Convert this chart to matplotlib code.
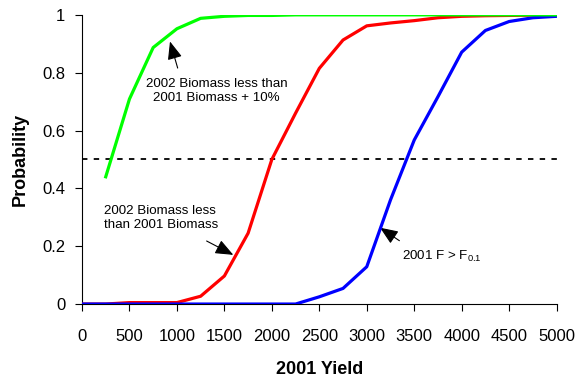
import numpy as np
import matplotlib
matplotlib.use('Agg')
import matplotlib.pyplot as plt

plt.rcParams['font.family'] = ['Liberation Sans', 'DejaVu Sans']

# Rendimiento 2001 y probabilidades
yield_2001 = [0, 250, 500, 750, 1000, 1250, 1500, 1750, 2000, 2250, 2500,
              2750, 3000, 3250, 3500, 3750, 4000, 4250, 4500, 4750, 5000]

p_biomass10 = [0.44, 0.709, 0.887, 0.952, 0.988, 0.995, 0.998, 0.998, 1.0,
               1.0, 1.0, 1.0, 1.0, 1.0, 1.0, 1.0, 1.0, 1.0, 1.0, 1.0]
yield_biomass10 = yield_2001[1:]

p_biomass = [0.0, 0.0, 0.005, 0.005, 0.005, 0.027, 0.097, 0.245, 0.50, 0.66,
             0.815, 0.913, 0.962, 0.972, 0.98, 0.99, 0.995, 0.997, 0.998, 0.999, 1.0]

p_f01 = [0.0, 0.0, 0.0, 0.0, 0.0, 0.0, 0.0, 0.0, 0.0, 0.0, 0.025, 0.054,
         0.129, 0.36, 0.567, 0.717, 0.871, 0.946, 0.977, 0.99, 0.995]

fig = plt.figure(figsize=(5.75, 3.81), dpi=100)
ax = fig.add_axes([0.1426, 0.202, 0.8254, 0.759])

ax.plot(yield_2001, p_biomass, color='#ff0000', lw=2.3, zorder=3)
ax.plot(yield_2001, p_f01, color='#0000ff', lw=2.3, zorder=4)
ax.plot(yield_biomass10, p_biomass10, color='#00ff00', lw=2.3, zorder=5)
ax.plot([yield_2001[0], yield_2001[-1]], [0.5, 0.5], color='black', lw=1.3,
        ls=(0, (3, 3.5)), zorder=2)

arr = dict(arrowstyle='-|>,head_length=1.1,head_width=0.45', color='black',
           lw=0.8, shrinkA=0, shrinkB=0)
ax.annotate('', xy=(927, 0.908), xytext=(1008, 0.816), arrowprops=arr)
ax.text(1418, 0.737, '2002 Biomass less than\n2001 Biomass + 10%', ha='center',
        va='center', fontsize=9.6, linespacing=1.15)

ax.annotate('', xy=(1594, 0.17), xytext=(1313, 0.218), arrowprops=arr)
ax.text(235, 0.298, '2002 Biomass less\nthan 2001 Biomass', ha='left',
        va='center', fontsize=9.6, linespacing=1.15)

ax.annotate('', xy=(3140, 0.264), xytext=(3344, 0.219), arrowprops=arr)
ax.text(3375, 0.164, r'2001 F > F$_{\mathregular{0.1}}$', ha='left',
        va='center', fontsize=9.6)

ax.set_xlim(0, 5000)
ax.set_ylim(0, 1)
ax.set_xticks(np.arange(0, 5001, 500))
ax.set_yticks([0, 0.2, 0.4, 0.6, 0.8, 1])
ax.set_yticklabels(['0', '0.2', '0.4', '0.6', '0.8', '1'])
ax.tick_params(labelsize=12, length=5, width=0.8, direction='out')
ax.tick_params(axis='x', pad=13)
ax.tick_params(axis='y', pad=7)
for s in ['top', 'right']:
    ax.spines[s].set_visible(False)
ax.spines['left'].set_clip_on(False)
ax.set_xlabel('2001 Yield', fontsize=13, fontweight='bold', labelpad=12)
ax.set_ylabel('Probability', fontsize=13, fontweight='bold', labelpad=10)

fig.savefig('out.png', dpi=100)
